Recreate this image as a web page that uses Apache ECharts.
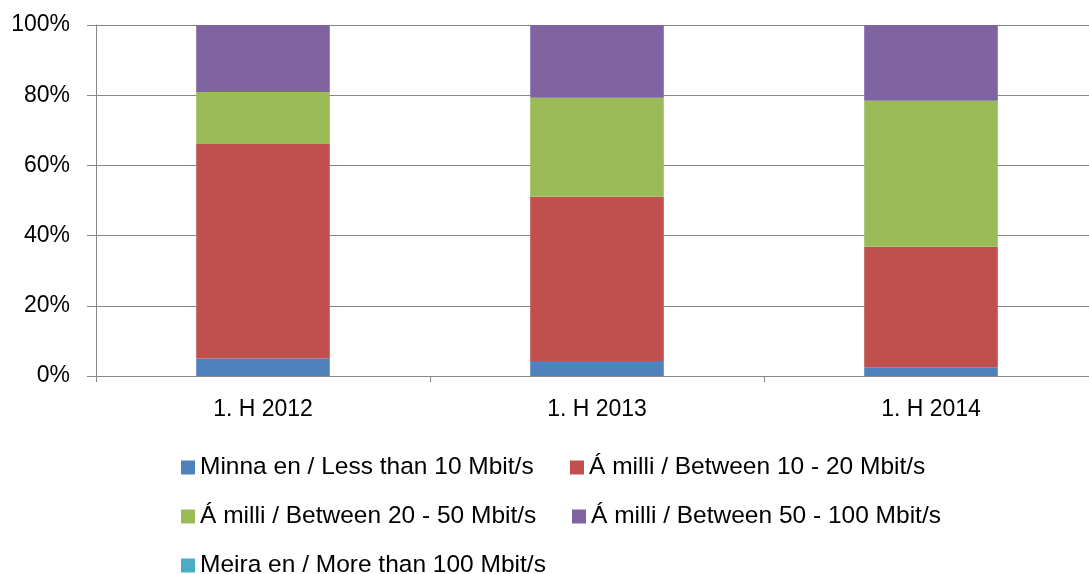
<!DOCTYPE html>
<html>
<head>
<meta charset="utf-8">
<script src="https://cdn.jsdelivr.net/npm/echarts@6/dist/echarts.min.js"></script>
<style>html,body{margin:0;padding:0;background:#fff;overflow:hidden;width:1089px;height:574px}#c{width:1098px;height:574px}</style>
</head>
<body>
<div id="c"></div>
<script>
const categories = ['1. H 2012', '1. H 2013', '1. H 2014'];
const seriesNames = [
  'Minna en / Less than 10 Mbit/s',
  'Á milli / Between 10 - 20 Mbit/s',
  'Á milli / Between 20 - 50 Mbit/s',
  'Á milli / Between 50 - 100 Mbit/s',
  'Meira en / More than 100 Mbit/s'
];
const lessThan10 = [5.0, 4.3, 2.5];
const between10_20 = [61.1, 46.8, 34.3];
const between20_50 = [14.8, 28.2, 41.6];
const between50_100 = [19.1, 20.7, 21.6];
const moreThan100 = [0, 0, 0];
const yTicks = [0, 20, 40, 60, 80, 100];

const colors = ['#4F81BD', '#C0504D', '#9BBB59', '#8064A2', '#4BACC6'];
const values = [lessThan10, between10_20, between20_50, between50_100, moreThan100];
const font = '"Liberation Sans", Arial, sans-serif';

const legendPos = [
  {left: 181, top: 455},
  {left: 570, top: 455},
  {left: 181, top: 504},
  {left: 572, top: 504},
  {left: 181, top: 553}
];

const chart = echarts.init(document.getElementById('c'), null, {renderer: 'canvas'});
chart.setOption({
  animation: false,
  color: colors,
  grid: {left: 96, top: 25, right: 0, bottom: 198, containLabel: false},
  legend: seriesNames.map((n, i) => ({
    data: [n],
    left: legendPos[i].left,
    top: legendPos[i].top,
    padding: 0,
    itemWidth: 14,
    itemHeight: 14,
    itemGap: 0,
    icon: 'rect',
    textStyle: {fontFamily: font, fontSize: 24.5, color: '#000', padding: [0, 0, 0, 0]},
    selectedMode: false
  })),
  xAxis: {
    type: 'category',
    data: categories,
    axisLine: {lineStyle: {color: '#868686', width: 1}},
    axisTick: {show: true, length: 6, lineStyle: {color: '#868686'}},
    axisLabel: {fontFamily: font, fontSize: 23, color: '#000', margin: 22}
  },
  yAxis: {
    type: 'value',
    min: yTicks[0],
    max: yTicks[yTicks.length - 1],
    interval: 20,
    axisLine: {show: true, lineStyle: {color: '#868686', width: 1}},
    axisTick: {show: true, length: 9, lineStyle: {color: '#868686'}},
    splitLine: {lineStyle: {color: '#868686', width: 1}},
    axisLabel: {fontFamily: font, fontSize: 23, color: '#000', margin: 26, formatter: '{value}%'}
  },
  series: seriesNames.map((n, i) => ({
    name: n,
    type: 'bar',
    stack: 'total',
    barWidth: '40%',
    data: values[i],
    itemStyle: {color: colors[i]}
  }))
});
</script>
</body>
</html>
